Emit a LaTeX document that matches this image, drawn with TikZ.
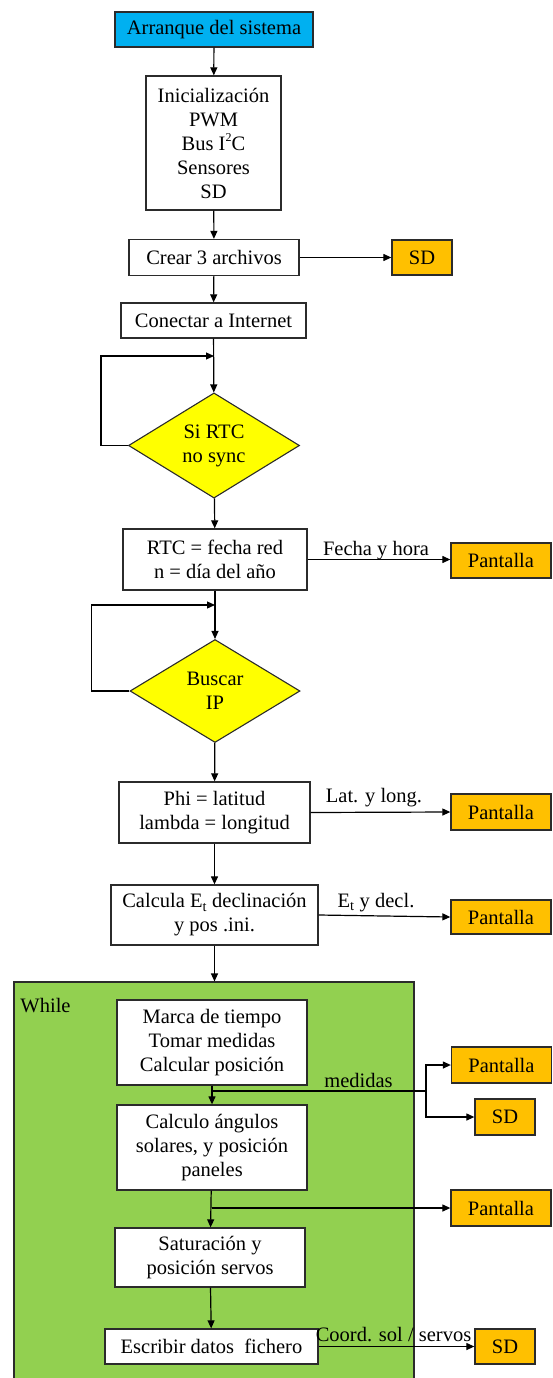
\documentclass[tikz,border=0pt]{standalone}
\usepackage{fontspec}
\setmainfont{Liberation Serif}
\usetikzlibrary{shapes.geometric,arrows.meta}
\definecolor{cstart}{HTML}{00B0F0}
\definecolor{corange}{HTML}{FFC000}
\definecolor{cyellow}{HTML}{FFFF00}
\definecolor{cgreen}{HTML}{92D050}
\definecolor{bordercol}{HTML}{2B2B2B}
\newcommand{\supsmall}[1]{\raisebox{0.42em}{\fontsize{12}{12}\selectfont #1}}
\begin{document}
\begin{tikzpicture}[x=1pt,y=-1pt,
  font=\fontsize{20.5}{24}\selectfont,
  box/.style={draw=bordercol,line width=1.3pt,fill=white,inner sep=0pt,align=center},
  outbox/.style={box,fill=corange},
  dec/.style={diamond,draw=bordercol,line width=1.1pt,fill=cyellow,inner sep=0pt,align=center},
  arr/.style={-{Triangle[length=8pt,width=7pt]},line width=1.2pt,draw=black},
  plain/.style={line width=1.2pt,draw=black},
  lbl/.style={anchor=base,inner sep=0pt}]
\useasboundingbox (0,0) rectangle (552,1378);

% top section
\node[box,fill=cstart,minimum width=198pt,minimum height=35pt] (start) at (214,29.5) {Arranque del sistema};
\node[box,minimum width=135pt,minimum height=134pt] (init) at (213.5,143) {Inicialización\\PWM\\Bus I\supsmall{2}C\\Sensores\\SD};
\node[box,minimum width=170pt,minimum height=36pt] (crear) at (214,257.5) {Crear 3 archivos};
\node[outbox,minimum width=60pt,minimum height=35pt] (sd1) at (422,257.5) {SD};
\node[box,minimum width=185pt,minimum height=35pt] (conectar) at (213.5,320.5) {Conectar a Internet};
\node[dec,minimum width=171pt,minimum height=103pt] (d1) at (214,445.5) {Si RTC\\no sync};
\node[box,minimum width=184pt,minimum height=61pt] (rtc) at (215,559.5) {RTC = fecha red\\n = día del año};
\node[outbox,minimum width=100pt,minimum height=35pt] (p1) at (501,560.5) {Pantalla};
\node[dec,minimum width=170pt,minimum height=103pt] (d2) at (215,691) {Buscar\\IP};
\node[box,minimum width=191pt,minimum height=61pt] (phi) at (214.5,812.5) {Phi = latitud\\lambda = longitud};
\node[outbox,minimum width=100pt,minimum height=36pt] (p2) at (501,812) {Pantalla};
\node[box,minimum width=207pt,minimum height=60pt] (calc) at (214.5,915) {Calcula E\textsubscript{t} declinación\\y pos .ini.};
\node[outbox,minimum width=100pt,minimum height=34pt] (p3) at (501,917) {Pantalla};

% while section
\node[draw=bordercol,line width=1.1pt,fill=cgreen,minimum width=400pt,minimum height=400pt,inner sep=0pt] (wbox) at (214,1182) {};
\node[lbl] (wlabel) at (45.5,1012) {While};
\node[box,minimum width=190pt,minimum height=85pt] (marca) at (212,1042.5) {Marca de tiempo\\Tomar medidas\\Calcular posición};
\node[box,minimum width=190pt,minimum height=85pt] (calculo) at (212,1147.5) {Calculo ángulos\\solares, y posición\\paneles};
\node[box,minimum width=190pt,minimum height=59pt] (sat) at (210,1257.5) {Saturación y\\posición servos};
\node[box,minimum width=213pt,minimum height=35pt] (escr) at (211.5,1346.5) {Escribir datos~ fichero};
\node[outbox,minimum width=100pt,minimum height=36pt] (p4) at (501.5,1065) {Pantalla};
\node[outbox,minimum width=60pt,minimum height=36pt] (sd2) at (505,1117) {SD};
\node[outbox,minimum width=100pt,minimum height=36pt] (p5) at (501,1208) {Pantalla};
\node[outbox,minimum width=60pt,minimum height=35pt] (sd3) at (505,1346.5) {SD};

% connectors
\draw[arr] (start) -- (init);
\draw[arr] (init) -- (crear);
\draw[arr] (crear) -- (sd1);
\draw[arr] (crear) -- (conectar);
\draw[arr] (conectar) -- (d1);
\coordinate (j1) at (214,356);
\draw[arr] (d1.west) -- ++(-27,0) |- (j1);
\draw[arr] (d1) -- (rtc);
\draw[arr] (rtc.east) -- (p1.west |- rtc.east);
\node[lbl] (l1) at (376,555) {Fecha y hora};
\draw[arr] (rtc) -- (d2);
\coordinate (j2) at (215,605);
\draw[arr] (d2.west) -- ++(-38,0) |- (j2);
\draw[arr] (d2) -- (phi);
\draw[arr] (phi.east) -- (p2.west);
\node[lbl] (l2) at (374,802) {Lat. y long.};
\draw[arr] (phi) -- (calc);
\draw[arr] (calc.east) -- (p3.west);
\node[lbl] (l3) at (376,907) {E\textsubscript{t} y decl.};
\draw[arr] (calc.south) -- (calc.south |- wbox.north);

\draw[arr] (marca) -- (calculo);
\coordinate (m0) at (212,1091);
\coordinate (m1) at (426,1091);
\draw[plain] (m0) -- (m1);
\draw[arr] (m1) |- (p4.west);
\draw[arr] (m1) |- (sd2.west);
\node[lbl] (l4) at (358.5,1087) {medidas};
\draw[arr] (calculo) -- (sat);
\coordinate (c0) at (212,1208);
\draw[arr] (c0) -- (p5.west);
\draw[arr] (sat) -- (escr);
\draw[arr] (escr.east) -- (sd3.west);
\node[lbl] (l5) at (393.5,1341) {Coord. sol / servos};
\end{tikzpicture}
\end{document}
